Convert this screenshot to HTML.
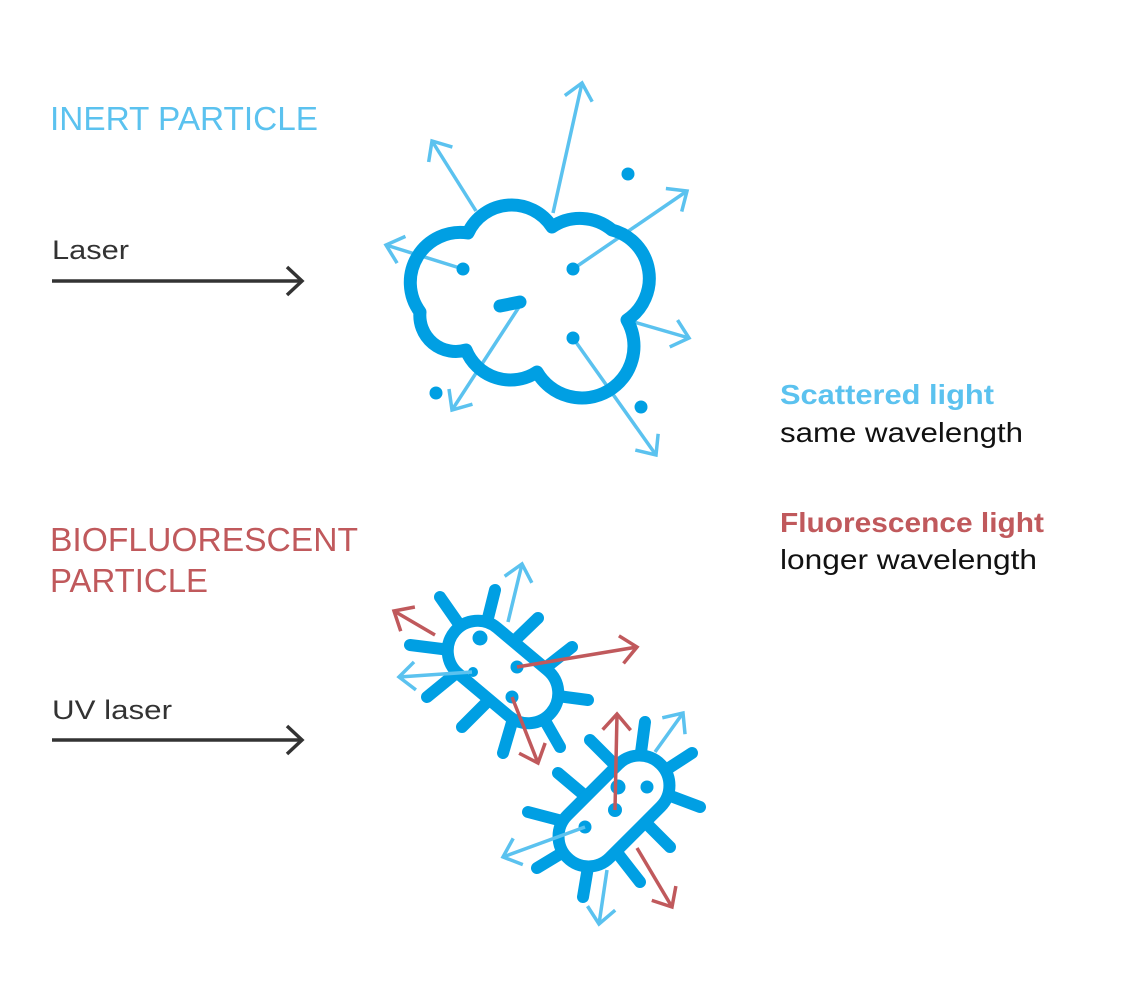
<!DOCTYPE html>
<html><head><meta charset="utf-8"><style>
html,body{margin:0;padding:0;background:#fff;width:1132px;height:1000px;overflow:hidden}
svg{display:block}
text{font-family:"Liberation Sans",sans-serif}
</style></head><body>
<svg width="1132" height="1000" viewBox="0 0 1132 1000" xmlns="http://www.w3.org/2000/svg">
<defs>
<marker id="ab" markerUnits="userSpaceOnUse" markerWidth="40" markerHeight="40" refX="0" refY="0" viewBox="-20 -20 40 40" orient="auto">
<path d="M-16,-14 L0,0 L-16,14" fill="none" stroke="#5bc2ef" stroke-width="3.5"/></marker>
<marker id="ar" markerUnits="userSpaceOnUse" markerWidth="40" markerHeight="40" refX="0" refY="0" viewBox="-20 -20 40 40" orient="auto">
<path d="M-16,-14 L0,0 L-16,14" fill="none" stroke="#c0595c" stroke-width="3.5"/></marker>
<marker id="ak" markerUnits="userSpaceOnUse" markerWidth="40" markerHeight="40" refX="0" refY="0" viewBox="-20 -20 40 40" orient="auto">
<path d="M-15,-14 L0,0 L-15,14" fill="none" stroke="#333" stroke-width="3.5"/></marker>
</defs>

<text x="50" y="130" font-size="33" fill="#5bc2ef" textLength="268" lengthAdjust="spacingAndGlyphs">INERT PARTICLE</text>
<text x="52" y="259" font-size="27" fill="#333" textLength="77" lengthAdjust="spacingAndGlyphs">Laser</text>
<text x="50" y="551" font-size="33" fill="#c0595c" textLength="308" lengthAdjust="spacingAndGlyphs">BIOFLUORESCENT</text>
<text x="50" y="592" font-size="33" fill="#c0595c" textLength="158" lengthAdjust="spacingAndGlyphs">PARTICLE</text>
<text x="52" y="719" font-size="27" fill="#333" textLength="120" lengthAdjust="spacingAndGlyphs">UV laser</text>
<text x="780" y="404" font-size="28" font-weight="bold" fill="#5bc2ef" textLength="214" lengthAdjust="spacingAndGlyphs">Scattered light</text>
<text x="780" y="442" font-size="28" fill="#111" textLength="243" lengthAdjust="spacingAndGlyphs">same wavelength</text>
<text x="780" y="532" font-size="28" font-weight="bold" fill="#c0595c" textLength="264" lengthAdjust="spacingAndGlyphs">Fluorescence light</text>
<text x="780" y="569" font-size="28" fill="#111" textLength="257" lengthAdjust="spacingAndGlyphs">longer wavelength</text>

<line x1="52" y1="281" x2="302" y2="281" stroke="#333" stroke-width="3.5" marker-end="url(#ak)"/>
<line x1="52" y1="740" x2="302" y2="740" stroke="#333" stroke-width="3.5" marker-end="url(#ak)"/>

<g stroke="#5bc2ef" stroke-width="3.5" fill="none">
<line x1="463" y1="269" x2="386" y2="245" marker-end="url(#ab)"/>
<line x1="476" y1="211" x2="432" y2="141" marker-end="url(#ab)"/>
<line x1="553" y1="213" x2="582" y2="83" marker-end="url(#ab)"/>
<line x1="573" y1="269" x2="687" y2="191" marker-end="url(#ab)"/>
<line x1="634" y1="322" x2="689" y2="338" marker-end="url(#ab)"/>
<line x1="519" y1="307" x2="452" y2="410" marker-end="url(#ab)"/>
<line x1="573" y1="338" x2="656" y2="455" marker-end="url(#ab)"/>
</g>
<path d="M468,233 A48,48 0 0 1 552,227 A50,50 0 0 1 612,230 A50,50 0 0 1 627,320 A44,44 0 0 1 537,372 A48,48 0 0 1 466,350 A36,36 0 0 1 420,312 A50,50 0 0 1 468,233 Z" fill="none" stroke="#009fe3" stroke-width="13" stroke-linejoin="round"/>
<line x1="500" y1="306" x2="520" y2="302" stroke="#009fe3" stroke-width="13" stroke-linecap="round"/>
<g fill="#009fe3">
<circle cx="463" cy="269" r="6.5"/><circle cx="573" cy="269" r="6.5"/><circle cx="573" cy="338" r="6.5"/>
<circle cx="628" cy="174" r="6.5"/><circle cx="436" cy="393" r="6.5"/><circle cx="641" cy="407" r="6.5"/>
</g>

<!-- bacterium 1 -->
<g stroke="#009fe3" stroke-width="12" stroke-linecap="round" fill="none">
<line x1="440" y1="597" x2="470" y2="640"/><line x1="495" y1="590" x2="485" y2="630"/>
<line x1="538" y1="618" x2="510" y2="645"/><line x1="572" y1="647" x2="540" y2="672"/>
<line x1="588" y1="700" x2="550" y2="695"/><line x1="560" y1="747" x2="540" y2="712"/>
<line x1="503" y1="753" x2="515" y2="712"/><line x1="462" y1="727" x2="492" y2="697"/>
<line x1="427" y1="697" x2="460" y2="670"/><line x1="410" y1="645" x2="450" y2="650"/>
</g>
<rect x="-63" y="-30" width="126" height="60" rx="30" transform="translate(503,672) rotate(40)" fill="#fff" stroke="#009fe3" stroke-width="12"/>
<g fill="#009fe3"><circle cx="480" cy="638" r="7.5"/><circle cx="517" cy="667" r="6.5"/><circle cx="473" cy="672" r="5"/><circle cx="512" cy="697" r="6.5"/></g>
<g stroke-width="3.5" fill="none">
<line x1="435" y1="635" x2="394" y2="611" stroke="#c0595c" marker-end="url(#ar)"/>
<line x1="508" y1="622" x2="522" y2="564" stroke="#5bc2ef" marker-end="url(#ab)"/>
<line x1="517" y1="667" x2="637" y2="647" stroke="#c0595c" marker-end="url(#ar)"/>
<line x1="472" y1="672" x2="399" y2="677" stroke="#5bc2ef" marker-end="url(#ab)"/>
<line x1="512" y1="697" x2="538" y2="763" stroke="#c0595c" marker-end="url(#ar)"/>
</g>

<!-- bacterium 2 -->
<g stroke="#009fe3" stroke-width="12" stroke-linecap="round" fill="none">
<line x1="590" y1="740" x2="615" y2="765"/><line x1="645" y1="722" x2="640" y2="760"/>
<line x1="692" y1="753" x2="655" y2="777"/><line x1="700" y1="807" x2="660" y2="792"/>
<line x1="670" y1="847" x2="640" y2="817"/><line x1="640" y1="882" x2="615" y2="850"/>
<line x1="583" y1="897" x2="590" y2="855"/><line x1="537" y1="868" x2="575" y2="845"/>
<line x1="528" y1="812" x2="570" y2="823"/><line x1="558" y1="773" x2="590" y2="800"/>
</g>
<rect x="-66" y="-30" width="132" height="60" rx="30" transform="translate(614,811) rotate(-45)" fill="#fff" stroke="#009fe3" stroke-width="12"/>
<g fill="#009fe3"><circle cx="618" cy="787" r="7.5"/><circle cx="647" cy="787" r="6.5"/><circle cx="615" cy="810" r="7"/><circle cx="585" cy="827" r="6.5"/></g>
<g stroke-width="3.5" fill="none">
<line x1="615" y1="810" x2="617" y2="714" stroke="#c0595c" marker-end="url(#ar)"/>
<line x1="655" y1="752" x2="683" y2="713" stroke="#5bc2ef" marker-end="url(#ab)"/>
<line x1="585" y1="827" x2="503" y2="857" stroke="#5bc2ef" marker-end="url(#ab)"/>
<line x1="607" y1="870" x2="599" y2="924" stroke="#5bc2ef" marker-end="url(#ab)"/>
<line x1="637" y1="848" x2="672" y2="907" stroke="#c0595c" marker-end="url(#ar)"/>
</g>
</svg>
</body></html>
